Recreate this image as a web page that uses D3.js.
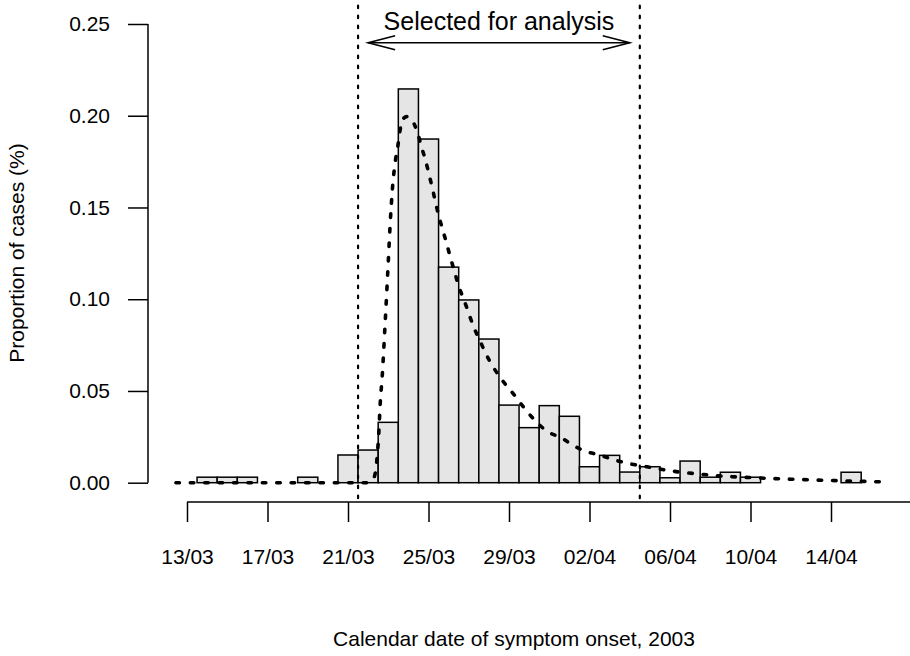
<!DOCTYPE html>
<html>
<head>
<meta charset="utf-8">
<script src="https://cdn.jsdelivr.net/npm/d3@7"></script>
<style>
  html, body { margin: 0; padding: 0; background: #fff; }
  svg { display: block; font-family: "Liberation Sans", Arial, Helvetica, sans-serif; }
</style>
</head>
<body>
<svg id="chart" width="910" height="656"></svg>
<script>
// ---- data ----
// day index 0 = 13/03/2003
const barDays = [1,2,3,4,5,6,7,8,9,10,11,12,13,14,15,16,17,18,19,20,21,22,23,24,25,26,27,28,29,30,31,32,33];
const barValues = [0.003,0.003,0.003,0,0,0.003,0,0.0151,0.0178,0.0329,0.2146,0.1873,0.1175,0.0996,0.0783,0.0423,0.0300,0.0420,0.0362,0.0087,0.0149,0.0058,0.0087,0.0027,0.0118,0.0030,0.0057,0.0030,0,0,0,0,0.0057];

const curveDays = [-0.55,9.0,9.3,9.43,9.53,9.6,9.7,9.85,10.0,10.1,10.21,10.36,10.47,10.57,10.72,10.92,11.15,11.46,11.65,11.85,12.01,12.19,12.36,12.52,12.72,12.92,13.1,13.3,13.51,13.75,14.0,14.24,14.54,14.84,15.53,16.18,16.92,17.42,17.92,18.61,19.16,19.85,20.5,21.24,21.89,23.33,24.07,24.71,25.46,26.1,28,30,32,34.4];
const curveValues = [0,0,0.003,0.012,0.027,0.043,0.058,0.088,0.12,0.142,0.1606,0.1758,0.183,0.191,0.198,0.1995,0.198,0.1906,0.183,0.1758,0.1688,0.1606,0.1523,0.145,0.1374,0.1296,0.1223,0.1147,0.1068,0.1,0.0923,0.085,0.0778,0.0705,0.0578,0.0489,0.0385,0.0325,0.0278,0.0244,0.0205,0.0169,0.0151,0.0124,0.0106,0.0078,0.0064,0.0055,0.0047,0.004,0.0028,0.0019,0.0012,0.0005];

const xTickDays = [0,4,8,12,16,20,24,28,32];
const xTickLabels = ["13/03","17/03","21/03","25/03","29/03","02/04","06/04","10/04","14/04"];
const yTicks = [0, 0.05, 0.10, 0.15, 0.20, 0.25];
const selectionBounds = [8.5, 22.5];
const arrowDays = [9, 22];

// ---- scales ----
const svg = d3.select("#chart");
const x = d3.scaleLinear().domain([0, 32]).range([187, 831]);
const y = d3.scaleLinear().domain([0, 0.25]).range([482.7, 24]);

// bars
svg.append("g").selectAll("rect").data(barDays.map((d,i)=>({d, v: barValues[i]})))
  .join("rect")
  .attr("x", d => x(d.d - 0.5))
  .attr("width", d => x(d.d + 0.5) - x(d.d - 0.5))
  .attr("y", d => y(d.v))
  .attr("height", d => y(0) - y(d.v))
  .attr("fill", "#e5e5e5")
  .attr("stroke", "#000")
  .attr("stroke-width", 1.5);

// selection lines
svg.append("g").selectAll("line").data(selectionBounds).join("line")
  .attr("x1", d => x(d)).attr("x2", d => x(d))
  .attr("y1", y(0.26)).attr("y2", y(-0.01))
  .attr("stroke", "#000").attr("stroke-width", 2.2)
  .attr("stroke-dasharray", "2.5,7.5").attr("stroke-linecap", "round");

// fitted curve
const line = d3.line().x((d,i) => x(curveDays[i])).y(d => y(d)).curve(d3.curveMonotoneX);
svg.append("path").attr("d", line(curveValues))
  .attr("fill", "none").attr("stroke", "#000").attr("stroke-width", 3.6)
  .attr("stroke-dasharray", "3.5,10.9").attr("stroke-linecap", "round");

// arrow
const ay = y(0.2398);
const ag = svg.append("g").attr("stroke", "#000").attr("stroke-width", 1.6).attr("fill", "none");
ag.append("line").attr("x1", x(arrowDays[0])).attr("x2", x(arrowDays[1])).attr("y1", ay).attr("y2", ay);
ag.append("path").attr("d", `M${x(arrowDays[0]) + 27},${ay - 7}L${x(arrowDays[0])},${ay}L${x(arrowDays[0]) + 27},${ay + 7}`);
ag.append("path").attr("d", `M${x(arrowDays[1]) - 27},${ay - 7}L${x(arrowDays[1])},${ay}L${x(arrowDays[1]) - 27},${ay + 7}`);
svg.append("text").attr("x", x((arrowDays[0] + arrowDays[1]) / 2)).attr("y", 30)
  .attr("text-anchor", "middle").attr("font-size", 25).text("Selected for analysis");

// y axis
const yAxis = d3.axisLeft(y).tickValues(yTicks).tickFormat(d3.format(".2f")).tickSize(20).tickPadding(18);
const gy = svg.append("g").attr("transform", "translate(148,0)").call(yAxis);
gy.select(".domain").attr("d", `M0,${y(0)}V${y(0.25)}`).attr("stroke-width", 1.5);
gy.selectAll(".tick line").attr("stroke-width", 1.5);
gy.selectAll(".tick text").attr("font-size", 21).attr("font-family", "Liberation Sans, Arial, sans-serif").attr("fill", "#000");

// x axis
const xAxis = d3.axisBottom(x).tickValues(xTickDays).tickFormat((d,i) => xTickLabels[i]).tickSize(20).tickPadding(27);
const gx = svg.append("g").attr("transform", "translate(0,502)").call(xAxis);
gx.select(".domain").attr("d", `M${x(0)},0H910`).attr("stroke-width", 1.5);
gx.selectAll(".tick line").attr("stroke-width", 1.5);
gx.selectAll(".tick text").attr("font-size", 21).attr("font-family", "Liberation Sans, Arial, sans-serif").attr("fill", "#000");

// titles
svg.append("text").attr("x", 514).attr("y", 646).attr("text-anchor", "middle")
  .attr("font-size", 21).text("Calendar date of symptom onset, 2003");
svg.append("text").attr("transform", "translate(24,253) rotate(-90)").attr("text-anchor", "middle")
  .attr("font-size", 21).text("Proportion of cases (%)");
</script>
</body>
</html>
